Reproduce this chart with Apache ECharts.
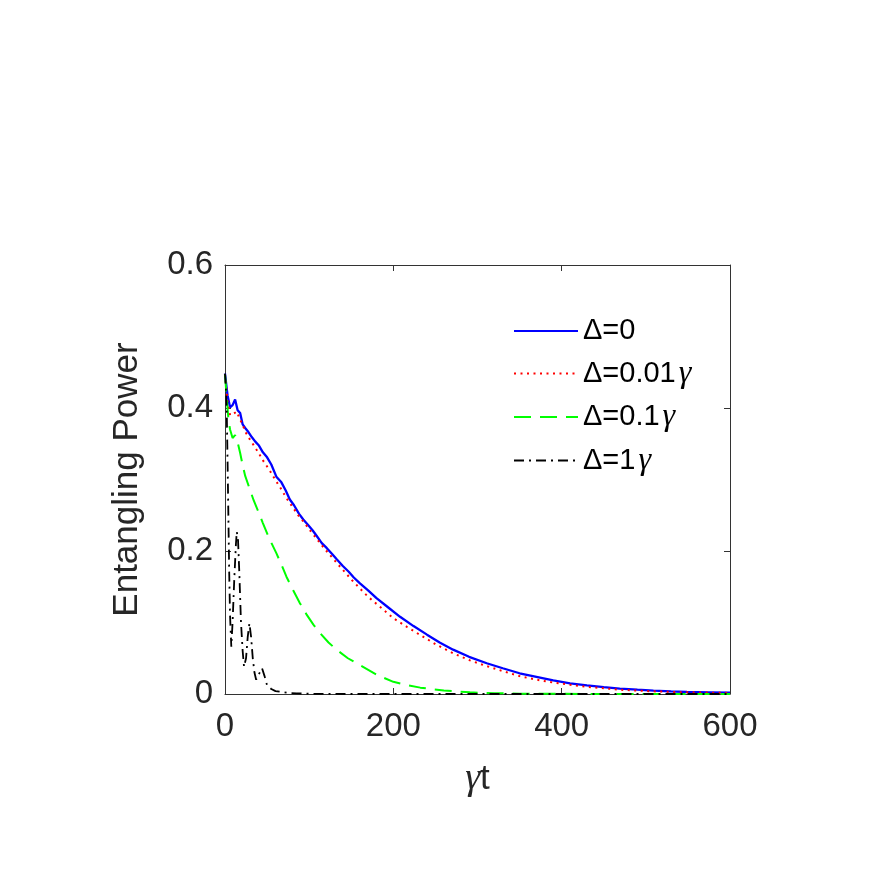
<!DOCTYPE html>
<html>
<head>
<meta charset="utf-8">
<title>Entangling Power</title>
<script src="https://cdn.jsdelivr.net/npm/echarts@6/dist/echarts.min.js"></script>
<style>
    html, body { margin: 0; padding: 0; background: #fff; }
    #chart { width: 886px; height: 886px; }
</style>
</head>
<body>
<div id="chart"></div>
<script>
    // 横轴刻度 / 纵轴刻度
    var xTicks = [0, 200, 400, 600];
    var yTicks = [0, 0.2, 0.4, 0.6];

    // Δ=0
    var tD0 = [0, 3, 6, 9, 12, 15, 18, 21, 24, 28, 32, 36, 40, 45, 50, 55, 61, 67, 72, 77, 82, 88, 93, 99, 104, 109, 115, 121, 127, 133, 140, 147, 153, 160, 170, 180, 194, 208, 224, 240, 255, 271, 290, 311, 330, 350, 370, 390, 410, 430, 450, 469, 490, 509, 530, 549, 575, 600];
    var pD0 = [0.448, 0.418, 0.401, 0.404, 0.412, 0.397, 0.393, 0.377, 0.372, 0.366, 0.359, 0.353, 0.348, 0.338, 0.331, 0.321, 0.304, 0.296, 0.285, 0.272, 0.264, 0.252, 0.244, 0.236, 0.229, 0.221, 0.211, 0.204, 0.196, 0.188, 0.179, 0.171, 0.163, 0.155, 0.145, 0.134, 0.121, 0.108, 0.095, 0.083, 0.072, 0.062, 0.052, 0.043, 0.036, 0.029, 0.024, 0.019, 0.015, 0.012, 0.0095, 0.0075, 0.006, 0.0047, 0.0036, 0.0028, 0.0024, 0.002];

    // Δ=0.01γ
    var tD001 = [0, 3, 6, 10, 14, 17, 20, 25, 30, 34, 40, 46, 53, 60, 66, 73, 80, 87, 94, 101, 109, 117, 125, 133, 142, 151, 160, 170, 180, 190, 200, 216, 232, 251, 271, 291, 311, 330, 350, 370, 390, 410, 430, 450, 469, 490, 509, 540, 570, 600];
    var pD001 = [0.447, 0.41, 0.39, 0.392, 0.395, 0.386, 0.379, 0.365, 0.355, 0.348, 0.337, 0.325, 0.313, 0.299, 0.288, 0.274, 0.262, 0.25, 0.24, 0.229, 0.217, 0.205, 0.194, 0.183, 0.171, 0.159, 0.148, 0.136, 0.126, 0.116, 0.106, 0.094, 0.0825, 0.069, 0.057, 0.047, 0.039, 0.032, 0.025, 0.02, 0.016, 0.013, 0.01, 0.008, 0.006, 0.0048, 0.0037, 0.0026, 0.002, 0.0015];

    // Δ=0.1γ
    var tD01 = [0, 2, 4, 6, 9, 12, 15, 18, 21, 24, 29, 34, 40, 45, 52, 61, 67, 73, 81, 89, 97, 105, 113, 123, 133, 146, 160, 180, 200, 216, 232, 260, 291, 320, 350, 400, 450, 500, 550, 600];
    var pD01 = [0.447, 0.415, 0.385, 0.37, 0.358, 0.362, 0.352, 0.337, 0.32, 0.305, 0.288, 0.271, 0.254, 0.239, 0.219, 0.197, 0.181, 0.164, 0.145, 0.127, 0.111, 0.097, 0.085, 0.072, 0.0615, 0.05, 0.0406, 0.027, 0.017, 0.0125, 0.0089, 0.0048, 0.0023, 0.0011, 0.0005, 0.0002, 0.0001, 0, 0, 0];

    // Δ=1γ
    var tD1 = [0, 1, 2, 3, 4, 5, 6, 7.5, 9, 11, 13, 14, 15.5, 17, 19, 21, 22.6, 25, 27, 29, 31, 33, 35, 37, 40, 44, 47, 50, 55, 60, 66, 75, 85, 95, 110, 150, 200, 300, 400, 500, 600];
    var pD1 = [0.448, 0.43, 0.4, 0.33, 0.25, 0.17, 0.11, 0.066, 0.1, 0.16, 0.21, 0.227, 0.215, 0.17, 0.1, 0.06, 0.038, 0.05, 0.08, 0.099, 0.08, 0.05, 0.03, 0.02, 0.027, 0.036, 0.025, 0.012, 0.007, 0.004, 0.003, 0.0015, 0.001, 0.0005, 0.0002, 0, 0, 0, 0, 0, 0];

    var names = ['Δ=0', 'Δ=0.01γ', 'Δ=0.1γ', 'Δ=1γ'];

    function pairs(t, p) {
        var out = [];
        for (var i = 0; i < t.length; i++) out.push([t[i], p[i]]);
        return out;
    }

    var font = '"Liberation Sans", Arial, Helvetica, sans-serif';
    var axisColor = '#262626';
    function boxLine() {
        return {show: true, onZero: false, lineStyle: {color: '#333', width: 1}};
    }
    function inTick() {
        return {show: true, inside: true, length: 6, lineStyle: {color: '#333', width: 1}};
    }

    var chart = echarts.init(document.getElementById('chart'));
    chart.setOption({
        animation: false,
        backgroundColor: '#fff',
        grid: {left: 225, right: 156, top: 265, bottom: 192},
        legend: {
            orient: 'vertical',
            left: 508,
            top: 311,
            itemWidth: 64,
            itemHeight: 12,
            itemGap: 11.5,
            data: names,
            itemStyle: {opacity: 0, borderWidth: 0},
            formatter: function (name) {
                return name.replace('γ', '{g|γ}');
            },
            textStyle: {
                fontFamily: font, fontSize: 29, color: '#000', lineHeight: 30,
                rich: {g: {fontFamily: '"Liberation Serif", serif', fontStyle: 'italic', fontSize: 32, color: '#000', lineHeight: 30, padding: [0, 0, 0, 3]}}
            }
        },
        xAxis: [
            {
                type: 'value', min: 0, max: 600, interval: 200,
                name: '{g|γ}t',
                nameLocation: 'middle',
                nameGap: 66,
                nameTextStyle: {
                    fontFamily: font, fontSize: 35, color: axisColor,
                    rich: {g: {fontFamily: '"Liberation Serif", serif', fontStyle: 'italic', fontSize: 38, color: axisColor}}
                },
                axisLine: boxLine(),
                axisTick: inTick(),
                splitLine: {show: false},
                axisLabel: {fontFamily: font, fontSize: 33, color: axisColor, margin: 16}
            },
            {
                type: 'value', min: 0, max: 600, interval: 200, position: 'top',
                axisLine: boxLine(), axisTick: inTick(),
                splitLine: {show: false}, axisLabel: {show: false}
            }
        ],
        yAxis: [
            {
                type: 'value', min: 0, max: 0.6, interval: 0.2,
                name: 'Entangling Power',
                nameLocation: 'middle',
                nameGap: 80,
                nameTextStyle: {fontFamily: font, fontSize: 35, color: axisColor},
                axisLine: boxLine(),
                axisTick: inTick(),
                splitLine: {show: false},
                axisLabel: {
                    fontFamily: font, fontSize: 33, color: axisColor, margin: 12,
                    formatter: function (v) { return v === 0 ? '0' : v.toFixed(1); }
                }
            },
            {
                type: 'value', min: 0, max: 0.6, interval: 0.2, position: 'right',
                axisLine: boxLine(), axisTick: inTick(),
                splitLine: {show: false}, axisLabel: {show: false}
            }
        ],
        series: [
            {
                name: names[0], type: 'line', symbol: 'none', showSymbol: false,
                data: pairs(tD0, pD0),
                itemStyle: {color: '#0000ff'},
                lineStyle: {color: '#0000ff', width: 2.3, type: 'solid'}
            },
            {
                name: names[1], type: 'line', symbol: 'none', showSymbol: false,
                data: pairs(tD001, pD001),
                itemStyle: {color: '#ff0000'},
                lineStyle: {color: '#ff0000', width: 2, type: [2, 4.5]}
            },
            {
                name: names[2], type: 'line', symbol: 'none', showSymbol: false,
                data: pairs(tD01, pD01),
                itemStyle: {color: '#00ff00'},
                lineStyle: {color: '#00ff00', width: 2, type: [17, 9]}
            },
            {
                name: names[3], type: 'line', symbol: 'none', showSymbol: false,
                data: pairs(tD1, pD1),
                itemStyle: {color: '#000000'},
                lineStyle: {color: '#000000', width: 1.8, type: [10, 5, 2, 5]}
            }
        ]
    });
</script>
</body>
</html>
